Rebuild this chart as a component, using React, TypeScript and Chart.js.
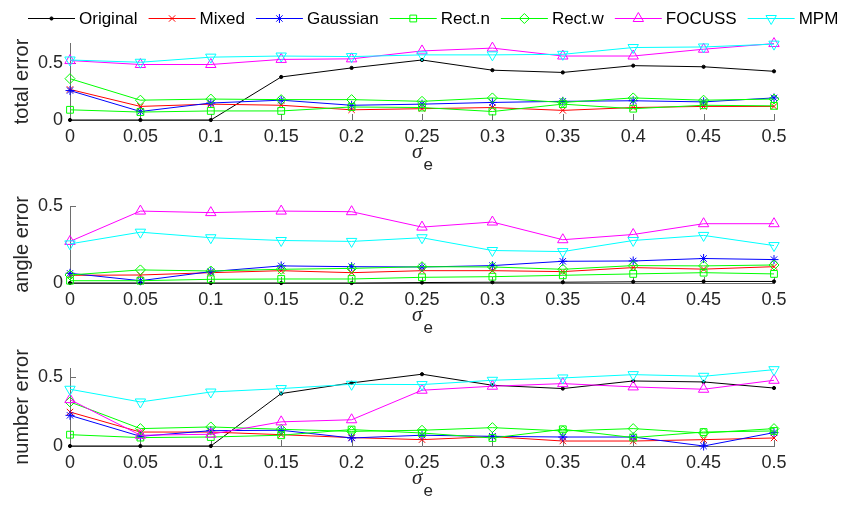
import React, { useEffect, useRef } from 'react';
import { Chart, registerables } from 'chart.js';
import { drawPoint } from 'chart.js/helpers';

Chart.register(...registerables);

// ---------- data ----------
const sigmaLabels = ['0', '0.05', '0.1', '0.15', '0.2', '0.25', '0.3', '0.35', '0.4', '0.45', '0.5'];
const seriesNames = ['Original', 'Mixed', 'Gaussian', 'Rect.n', 'Rect.w', 'FOCUSS', 'MPM'];
const yTickValues = [0, 0.5];
const yTickLabels = ['0', '0.5'];

// total error
const totalOriginal = [0, 0, 0, 0.38, 0.46, 0.53, 0.44, 0.42, 0.48, 0.47, 0.43];
const totalMixed = [0.27, 0.12, 0.14, 0.13, 0.09, 0.1, 0.11, 0.085, 0.11, 0.12, 0.12];
const totalGaussian = [0.26, 0.075, 0.15, 0.175, 0.13, 0.14, 0.155, 0.165, 0.17, 0.16, 0.195];
const totalRectN = [0.09, 0.07, 0.08, 0.08, 0.115, 0.11, 0.075, 0.14, 0.1, 0.13, 0.125];
const totalRectW = [0.365, 0.175, 0.185, 0.18, 0.18, 0.165, 0.195, 0.155, 0.195, 0.175, 0.185];
const totalFocuss = [0.525, 0.49, 0.49, 0.535, 0.54, 0.61, 0.635, 0.565, 0.565, 0.625, 0.675];
const totalMpm = [0.53, 0.51, 0.555, 0.565, 0.56, 0.575, 0.575, 0.58, 0.64, 0.645, 0.67];

// angle error
const angleOriginal = [0, 0, 0, 0, 0, 0.003, 0.005, 0.005, 0.008, 0.01, 0.01];
const angleMixed = [0.05, 0.052, 0.067, 0.08, 0.067, 0.08, 0.08, 0.074, 0.1, 0.09, 0.106];
const angleGaussian = [0.063, 0.015, 0.074, 0.111, 0.106, 0.104, 0.113, 0.141, 0.143, 0.159, 0.152];
const angleRectN = [0.015, 0.015, 0.024, 0.026, 0.026, 0.037, 0.041, 0.05, 0.059, 0.067, 0.059];
const angleRectW = [0.052, 0.085, 0.078, 0.089, 0.095, 0.106, 0.104, 0.089, 0.113, 0.111, 0.117];
const angleFocuss = [0.27, 0.467, 0.457, 0.467, 0.463, 0.363, 0.396, 0.281, 0.315, 0.385, 0.385];
const angleMpm = [0.254, 0.33, 0.294, 0.276, 0.27, 0.294, 0.211, 0.204, 0.276, 0.309, 0.243];

// number error
const numOriginal = [0, 0, 0, 0.38, 0.457, 0.52, 0.44, 0.416, 0.471, 0.464, 0.42];
const numMixed = [0.246, 0.101, 0.101, 0.082, 0.061, 0.046, 0.068, 0.036, 0.036, 0.046, 0.058];
const numGaussian = [0.222, 0.07, 0.111, 0.114, 0.058, 0.078, 0.07, 0.065, 0.065, 0.0, 0.097];
const numRectN = [0.082, 0.061, 0.065, 0.078, 0.119, 0.094, 0.058, 0.121, 0.061, 0.101, 0.109];
const numRectW = [0.319, 0.126, 0.138, 0.121, 0.106, 0.114, 0.133, 0.109, 0.126, 0.094, 0.126];
const numFocuss = [0.336, 0.078, 0.085, 0.175, 0.19, 0.404, 0.433, 0.452, 0.428, 0.411, 0.476];
const numMpm = [0.411, 0.319, 0.391, 0.416, 0.447, 0.445, 0.476, 0.493, 0.517, 0.505, 0.553];

// ---------- styles ----------
const W = 842;
const H = 513;
const FONT = '"Liberation Sans", Arial, Helvetica, sans-serif';
const AXIS_COLOR = '#6e6e6e';
const TEXT_COLOR = '#262626';
const X_AXIS_H = 40;

const seriesStyles = [
  { color: '#000000', pointStyle: 'circle', radius: 1.6, rotation: 0, filled: true },
  { color: '#ff0000', pointStyle: 'crossRot', radius: 4.5, rotation: 0, filled: false },
  { color: '#0000ff', pointStyle: 'star', radius: 4.5, rotation: 0, filled: false },
  { color: '#00ff00', pointStyle: 'rect', radius: 4.8, rotation: 0, filled: false },
  { color: '#00ff00', pointStyle: 'rectRot', radius: 5, rotation: 0, filled: false },
  { color: '#ff00ff', pointStyle: 'triangle', radius: 6, rotation: 0, filled: false },
  { color: '#00ffff', pointStyle: 'triangle', radius: 6, rotation: 180, filled: false },
];

const decorPlugin = {
  id: 'decor',
  beforeDatasetsDraw(chart: any) {
    const { ctx, chartArea, scales } = chart;
    const { left, bottom } = chartArea;
    ctx.save();
    ctx.strokeStyle = AXIS_COLOR;
    ctx.lineWidth = 1;
    ctx.beginPath();
    for (let i = 0; i < sigmaLabels.length; i++) {
      const px = Math.round(scales.x.getPixelForValue(i)) + 0.5;
      ctx.moveTo(px, bottom);
      ctx.lineTo(px, bottom - 6);
    }
    for (const v of yTickValues) {
      const py = Math.round(scales.y.getPixelForValue(v)) + 0.5;
      ctx.moveTo(left, py);
      ctx.lineTo(left + 6, py);
    }
    ctx.stroke();
    ctx.restore();
  },
  afterDraw(chart: any) {
    const { ctx, chartArea } = chart;
    const cx = (chartArea.left + chartArea.right) / 2;
    const y = chartArea.bottom + 38;
    const sigmaFont = 'italic 21px "Liberation Serif", "DejaVu Serif", serif';
    const subFont = '17px ' + FONT;
    ctx.save();
    ctx.fillStyle = TEXT_COLOR;
    ctx.textBaseline = 'alphabetic';
    ctx.font = sigmaFont;
    const sw = ctx.measureText('σ').width;
    ctx.font = subFont;
    const ew = ctx.measureText('e').width;
    const x0 = cx - (sw + ew) / 2;
    ctx.font = sigmaFont;
    ctx.fillText('σ', x0, y);
    ctx.font = subFont;
    ctx.fillText('e', x0 + sw + 1, y + 12);
    ctx.restore();
  },
};

const legendPlugin = {
  id: 'customLegend',
  afterDraw(chart: any) {
    const ctx = chart.ctx;
    const yMid = 18.5;
    let x = 28;
    ctx.save();
    ctx.font = '17px ' + FONT;
    ctx.textBaseline = 'middle';
    seriesNames.forEach((name, i) => {
      const st = seriesStyles[i];
      ctx.strokeStyle = st.color;
      ctx.lineWidth = 1;
      ctx.beginPath();
      ctx.moveTo(x, yMid);
      ctx.lineTo(x + 47, yMid);
      ctx.stroke();
      ctx.fillStyle = st.filled ? st.color : 'rgba(0,0,0,0)';
      drawPoint(ctx, { pointStyle: st.pointStyle as any, rotation: st.rotation, radius: st.radius, borderWidth: 1 }, x + 23.5, yMid);
      ctx.fillStyle = '#000000';
      ctx.fillText(name, x + 51, yMid + 1);
      x += 51 + ctx.measureText(name).width + 11;
    });
    ctx.restore();
  },
};

function makeConfig(series: number[][], ymax: number, ylabel: string, top: number, bottom: number, withLegend: boolean) {
  return {
    type: 'line' as const,
    data: {
      labels: sigmaLabels,
      datasets: series.map((vals, i) => {
        const st = seriesStyles[i];
        return {
          label: seriesNames[i],
          data: vals,
          borderColor: st.color,
          backgroundColor: st.filled ? st.color : 'rgba(0,0,0,0)',
          borderWidth: 1,
          pointStyle: st.pointStyle,
          pointRadius: st.radius,
          pointRotation: st.rotation,
          pointBorderWidth: 1,
          pointBorderColor: st.color,
          pointBackgroundColor: st.filled ? st.color : 'rgba(0,0,0,0)',
          tension: 0,
          fill: false,
          clip: false,
          order: seriesNames.length - i,
        };
      }),
    },
    options: {
      responsive: false,
      animation: false as const,
      devicePixelRatio: 1,
      events: [],
      layout: { padding: { left: 0, right: 68, top: top, bottom: H - bottom - X_AXIS_H } },
      plugins: { legend: { display: false }, tooltip: { enabled: false }, title: { display: false } },
      scales: {
        x: {
          type: 'category' as const,
          offset: false,
          grid: { display: false, drawTicks: false },
          border: { display: true, color: AXIS_COLOR, width: 1 },
          ticks: { font: { family: FONT, size: 18 }, color: TEXT_COLOR, padding: 6, maxRotation: 0, autoSkip: false },
          afterFit: (s: any) => { s.height = X_AXIS_H; },
        },
        y: {
          min: 0,
          max: ymax,
          grid: { display: false, drawTicks: false },
          border: { display: true, color: AXIS_COLOR, width: 1 },
          afterBuildTicks: (s: any) => { s.ticks = yTickValues.map((v) => ({ value: v })); },
          ticks: {
            font: { family: FONT, size: 18 },
            color: TEXT_COLOR,
            padding: 7,
            callback: (v: any) => yTickLabels[yTickValues.indexOf(Number(v))] ?? '',
          },
          title: { display: true, text: ylabel, font: { family: FONT, size: 20 }, color: TEXT_COLOR, padding: { top: 10, bottom: 0 } },
          afterFit: (s: any) => { s.width = 70; },
        },
      },
    },
    plugins: withLegend ? [decorPlugin, legendPlugin] : [decorPlugin],
  };
}

export default function App() {
  const c1 = useRef<HTMLCanvasElement>(null);
  const c2 = useRef<HTMLCanvasElement>(null);
  const c3 = useRef<HTMLCanvasElement>(null);

  useEffect(() => {
    document.body.style.margin = '0';
    const charts: Chart[] = [];
    charts.push(new Chart(c1.current!, makeConfig(
      [totalOriginal, totalMixed, totalGaussian, totalRectN, totalRectW, totalFocuss, totalMpm],
      0.68, 'total error', 43, 120, true) as any));
    charts.push(new Chart(c2.current!, makeConfig(
      [angleOriginal, angleMixed, angleGaussian, angleRectN, angleRectW, angleFocuss, angleMpm],
      0.5, 'angle error', 206, 283, false) as any));
    charts.push(new Chart(c3.current!, makeConfig(
      [numOriginal, numMixed, numGaussian, numRectN, numRectW, numFocuss, numMpm],
      0.565, 'number error', 368, 446, false) as any));
    return () => charts.forEach((c) => c.destroy());
  }, []);

  const cs: React.CSSProperties = { position: 'absolute', left: 0, top: 0, width: W, height: H };
  return (
    <div style={{ position: 'relative', width: W, height: H, background: '#ffffff' }}>
      <canvas ref={c1} width={W} height={H} style={cs} />
      <canvas ref={c2} width={W} height={H} style={cs} />
      <canvas ref={c3} width={W} height={H} style={cs} />
    </div>
  );
}
